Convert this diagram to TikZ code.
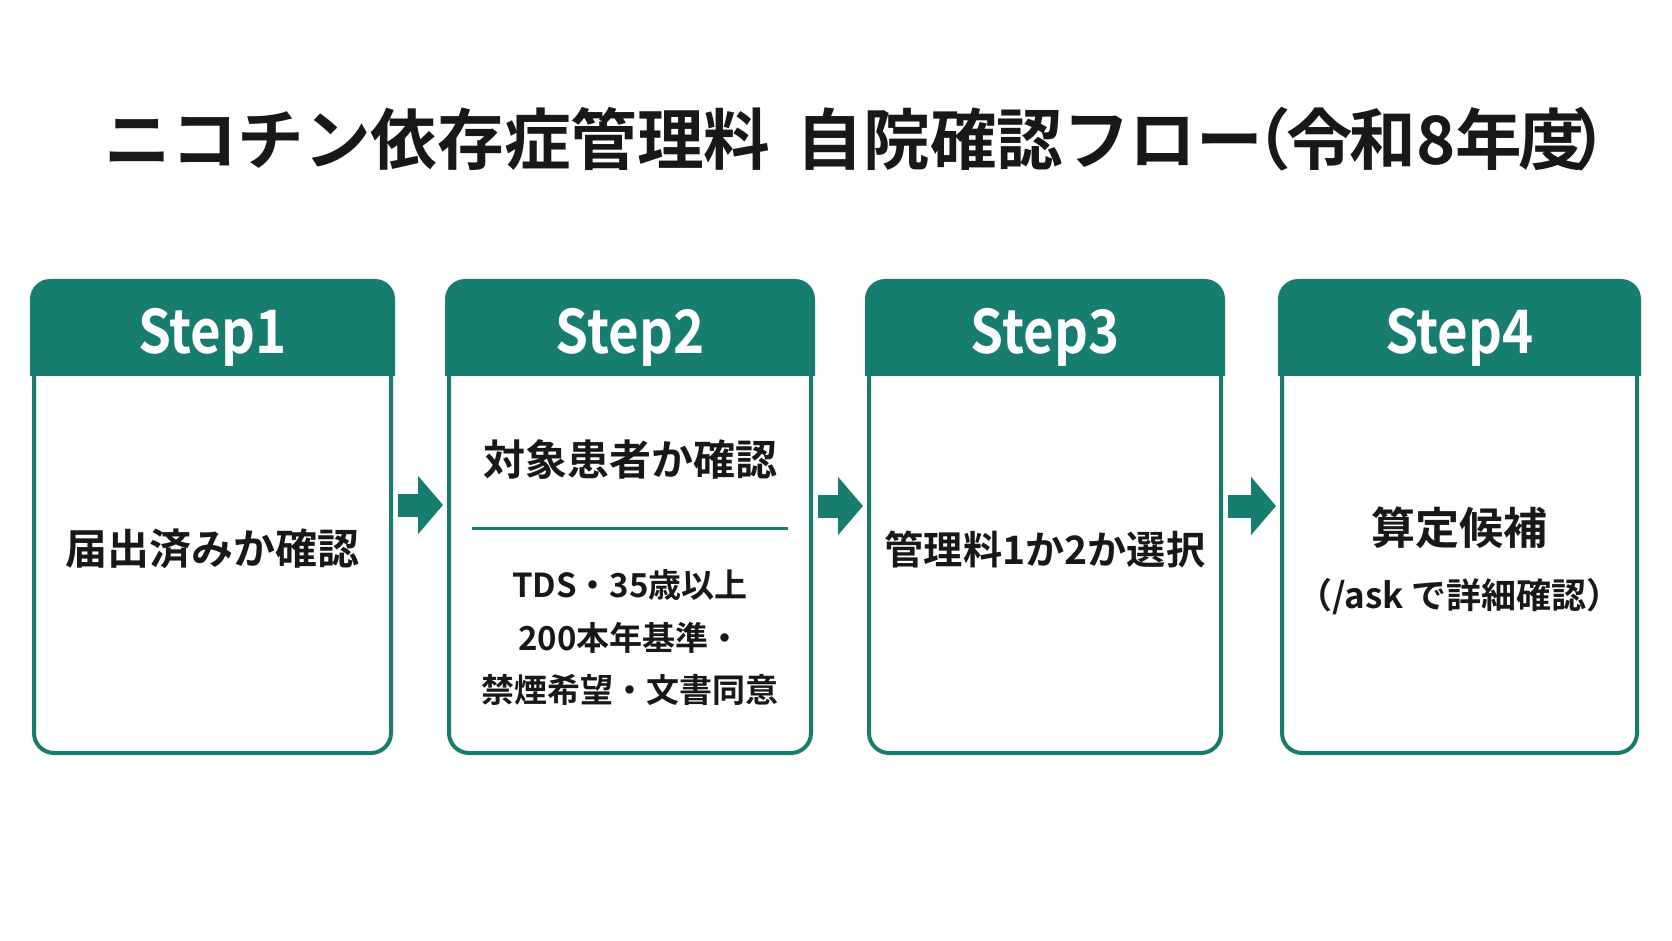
\documentclass[tikz,border=0pt]{standalone}
\usepackage{fontspec}
\usepackage{graphicx}
\setmainfont{Noto Sans CJK JP}[BoldFont={Noto Sans CJK JP Bold}]
\usetikzlibrary{arrows.meta}
\definecolor{tealc}{RGB}{23,125,110}
\definecolor{ink}{RGB}{24,24,24}
\newcommand{\stepname}[1]{\scalebox{0.88}[1]{#1}}
\tikzset{
  stepbox/.style={draw=tealc, line width=2pt, fill=white, rounded corners=10pt,
    minimum height=235pt, inner sep=0pt},
  headtxt/.style={text=white, font=\bfseries\fontsize{30}{34}\selectfont},
  bodytxt/.style={text=ink, font=\bfseries\fontsize{21}{26}\selectfont, align=center},
  smalltxt/.style={text=ink, font=\bfseries\fontsize{16.5}{26.25}\selectfont, align=center},
  titletxt/.style={text=ink, font=\bfseries\fontsize{33.3}{38}\selectfont},
  flow/.style={tealc, line width=11.5pt, -{Triangle[width=28.5pt,length=12.5pt]},
    shorten <=2.5pt, shorten >=2pt},
}
\begin{document}
\begin{tikzpicture}[x=0.5pt,y=-0.5pt]
\useasboundingbox[fill=white] (0,0) rectangle (1672,941);

\node[titletxt, anchor=west, inner sep=0pt] (title) at (104,139) {ニコチン依存症管理料\hspace{0.4em}自院確認フロー\kern-0.58em（\kern-0.07em 令\kern-0.05em 和8年\kern-0.05em 度\kern-0.2em）};

% boxes
\node[stepbox, minimum width=178.5pt] (s1) at (212.5,518) {};
\node[stepbox, minimum width=181pt] (s2) at (630,518) {};
\node[stepbox, minimum width=176pt] (s3) at (1045,518) {};
\node[stepbox, minimum width=177.5pt] (s4) at (1459.5,518) {};

% headers
\foreach \b in {s1,s2,s3,s4}{
  \begin{scope}
    \clip ([xshift=-3pt,yshift=3pt]\b.north west) rectangle ([xshift=3pt,yshift=-47.5pt]\b.north east);
    \fill[tealc, rounded corners=10pt] ([xshift=-1pt,yshift=1pt]\b.north west) rectangle ([xshift=1pt]\b.south east);
  \end{scope}
}
\node[headtxt] (h1) at (212.5,337) {\stepname{Step1}};
\node[headtxt] (h2) at (630,337) {\stepname{Step2}};
\node[headtxt] (h3) at (1045,337) {\stepname{Step3}};
\node[headtxt] (h4) at (1459.5,337) {\stepname{Step4}};

% contents
\node[bodytxt] (t1) at (212.5,549) {届出済みか確認};
\node[bodytxt] (t2) at (630,460) {対象患者か確認};
\draw[tealc, line width=1.5pt] (472,528) -- (788,528);
\node[smalltxt] (t2b) at (630,638) {TDS・35歳以上\\200本年基準・\\禁煙希望・文書同意};
\node[bodytxt, font=\bfseries\fontsize{19.6}{24}\selectfont] (t3) at (1045,549) {管理料1か2か選択};
\node[bodytxt, font=\bfseries\fontsize{22}{26}\selectfont] (t4) at (1459.5,528) {算定候補};
\node[smalltxt, font=\bfseries\fontsize{17.5}{22}\selectfont] (t4b) at (1459.5,597) {（/ask で詳細確認）};

% arrows
\draw[flow] ([yshift=6.5pt]s1.east) -- ([yshift=6.5pt]s2.west);
\draw[flow] ([yshift=6pt]s2.east) -- ([yshift=6pt]s3.west);
\draw[flow] ([yshift=6pt]s3.east) -- ([yshift=6pt]s4.west);
\end{tikzpicture}
\end{document}
